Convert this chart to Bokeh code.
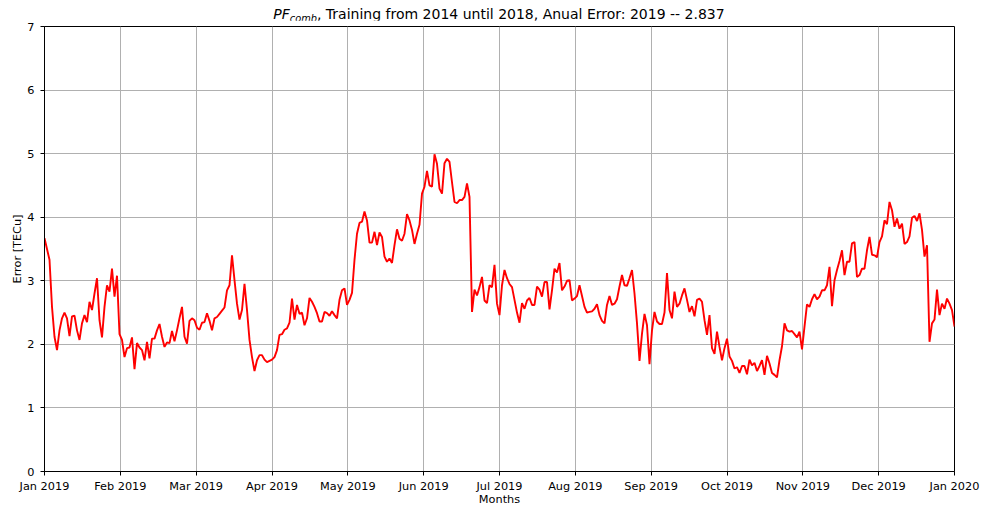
from bokeh.plotting import figure
from bokeh.models import FixedTicker, CustomJSTickFormatter, Range1d, Div
from bokeh.layouts import column
from bokeh.embed import file_html
from bokeh.resources import INLINE

# ---- data (daily error, 2019) ----
month_labels = ["Jan 2019", "Feb 2019", "Mar 2019", "Apr 2019", "May 2019", "Jun 2019",
                "Jul 2019", "Aug 2019", "Sep 2019", "Oct 2019", "Nov 2019", "Dec 2019",
                "Jan 2020"]
y_ticks = [0, 1, 2, 3, 4, 5, 6, 7]

err = [
    3.67, 3.50, 3.33, 2.59, 2.12, 1.91, 2.22, 2.41, 2.50, 2.41,
    2.13, 2.44, 2.45, 2.22, 2.07, 2.33, 2.46, 2.35, 2.67, 2.54,
    2.80, 3.04, 2.38, 2.11, 2.59, 2.93, 2.83, 3.19, 2.75, 3.08,
    2.16, 2.07, 1.80, 1.94, 1.95, 2.11, 1.61, 2.02, 1.95, 1.91,
    1.75, 2.04, 1.78, 2.09, 2.09, 2.22, 2.32, 2.12, 1.96, 2.03,
    2.02, 2.21, 2.05, 2.22, 2.41, 2.59, 2.12, 2.01, 2.37, 2.41,
    2.38, 2.26, 2.23, 2.34, 2.35, 2.49, 2.37, 2.22, 2.41, 2.43,
    2.48, 2.53, 2.58, 2.85, 2.93, 3.40, 3.01, 2.64, 2.39, 2.54,
    2.95, 2.54, 2.07, 1.80, 1.58, 1.75, 1.83, 1.83, 1.76, 1.72,
    1.74, 1.76, 1.80, 1.91, 2.15, 2.16, 2.23, 2.25, 2.34, 2.72,
    2.39, 2.62, 2.48, 2.50, 2.30, 2.41, 2.73, 2.67, 2.59, 2.49,
    2.36, 2.36, 2.51, 2.49, 2.45, 2.52, 2.46, 2.41, 2.70, 2.85,
    2.88, 2.62, 2.70, 2.81, 3.33, 3.74, 3.91, 3.93, 4.09, 3.95,
    3.60, 3.60, 3.77, 3.56, 3.76, 3.69, 3.38, 3.30, 3.35, 3.28,
    3.56, 3.81, 3.66, 3.63, 3.74, 4.05, 3.95, 3.80, 3.58, 3.74,
    3.88, 4.37, 4.48, 4.73, 4.50, 4.48, 4.99, 4.84, 4.45, 4.37,
    4.85, 4.92, 4.87, 4.55, 4.24, 4.22, 4.27, 4.27, 4.32, 4.53,
    4.32, 2.51, 2.86, 2.77, 2.90, 3.06, 2.69, 2.65, 2.93, 2.90,
    3.25, 2.64, 2.46, 2.93, 3.17, 3.04, 2.95, 2.90, 2.70, 2.50,
    2.34, 2.65, 2.56, 2.69, 2.73, 2.62, 2.62, 2.91, 2.86, 2.75,
    2.98, 2.98, 2.55, 2.85, 3.19, 3.13, 3.28, 2.85, 2.91, 3.00,
    3.01, 2.69, 2.72, 2.76, 2.93, 2.76, 2.59, 2.50, 2.51, 2.52,
    2.56, 2.63, 2.46, 2.37, 2.33, 2.62, 2.76, 2.62, 2.64, 2.71,
    2.91, 3.09, 2.93, 2.92, 3.04, 3.17, 2.80, 2.33, 1.74, 2.17,
    2.48, 2.30, 1.69, 2.22, 2.51, 2.36, 2.32, 2.32, 2.50, 3.12,
    2.54, 2.41, 2.83, 2.59, 2.64, 2.77, 2.88, 2.70, 2.51, 2.60,
    2.44, 2.70, 2.72, 2.67, 2.38, 2.15, 2.46, 1.94, 1.85, 2.20,
    1.96, 1.75, 1.94, 2.09, 1.81, 1.74, 1.62, 1.64, 1.55, 1.66,
    1.66, 1.53, 1.76, 1.67, 1.71, 1.58, 1.66, 1.75, 1.52, 1.82,
    1.70, 1.55, 1.52, 1.48, 1.75, 1.97, 2.33, 2.22, 2.20, 2.21,
    2.16, 2.11, 2.20, 1.92, 2.28, 2.63, 2.59, 2.71, 2.79, 2.71,
    2.75, 2.85, 2.85, 2.93, 3.22, 2.60, 3.01, 3.17, 3.31, 3.48,
    3.09, 3.30, 3.30, 3.59, 3.61, 3.06, 3.09, 3.19, 3.19, 3.48,
    3.69, 3.41, 3.40, 3.37, 3.61, 3.70, 3.95, 3.89, 4.24, 4.11,
    3.85, 3.98, 3.82, 3.90, 3.58, 3.61, 3.70, 3.99, 4.02, 3.94,
    4.06, 3.80, 3.38, 3.56, 2.04, 2.33, 2.39, 2.86, 2.46, 2.64,
    2.56, 2.72, 2.64, 2.54, 2.28,
]
days = list(range(len(err)))
x_end = days[-1]

FONT = "DejaVu Sans"
TICK_SIZE = "11.3px"

W, H = 981, 508
TITLE_H = 20
LEFT, RIGHT = 44, 27

p = figure(width=W, height=H - TITLE_H, output_backend="svg", toolbar_location=None,
           x_range=Range1d(0, x_end), y_range=Range1d(0, 7), title=None,
           min_border_left=LEFT, min_border_right=RIGHT, min_border_top=6,
           min_border_bottom=37, background_fill_color="white",
           border_fill_color="white", margin=0)

p.line(days, err, line_color="#ff0000", line_width=1.9)

# x axis: 12 equally spaced month ticks
p.xaxis.ticker = FixedTicker(ticks=[k * x_end / 12 for k in range(13)])
p.xaxis.formatter = CustomJSTickFormatter(args=dict(labels=month_labels, n=x_end),
                                          code="return labels[Math.round(tick*12/n)];")
p.yaxis.ticker = FixedTicker(ticks=y_ticks)

for ax in (p.xaxis, p.yaxis):
    ax.major_label_text_font = FONT
    ax.major_label_text_font_size = TICK_SIZE
    ax.major_label_text_color = "black"
    ax.axis_label_text_font = FONT
    ax.axis_label_text_font_size = TICK_SIZE
    ax.axis_label_text_font_style = "normal"
    ax.axis_label_text_color = "black"
    ax.major_tick_in = 0
    ax.major_tick_out = 4
    ax.major_tick_line_color = "black"
    ax.minor_tick_line_color = None
    ax.axis_line_color = "black"

p.xaxis.axis_label = "Months"
p.yaxis.axis_label = "Error [TECu]"
p.xaxis.major_label_standoff = 4
p.yaxis.major_label_standoff = 6
p.xaxis.axis_label_standoff = -3
p.yaxis.axis_label_standoff = 0

p.xgrid.grid_line_color = "#b0b0b0"
p.ygrid.grid_line_color = "#b0b0b0"
p.xgrid.grid_line_width = 1
p.ygrid.grid_line_width = 1

p.outline_line_color = "black"
p.outline_line_width = 1
p.outline_line_alpha = 1

title_html = ('<i>PF</i><span style="font-size:70%;font-style:italic;position:relative;'
              'top:3px;">comb</span>, Training from 2014 until 2018, Anual Error: 2019 -- 2.837')
title = Div(text=title_html, width=W - LEFT - RIGHT, height=TITLE_H, margin=(0, RIGHT, 0, LEFT),
            styles={"font-family": FONT, "font-size": "14px", "line-height": "16px",
                    "text-align": "center", "color": "black", "padding-top": "6px",
                    "box-sizing": "border-box", "white-space": "nowrap"})

layout = column(title, p, spacing=0, margin=0)

open("out.html", "w").write(file_html(layout, INLINE))
